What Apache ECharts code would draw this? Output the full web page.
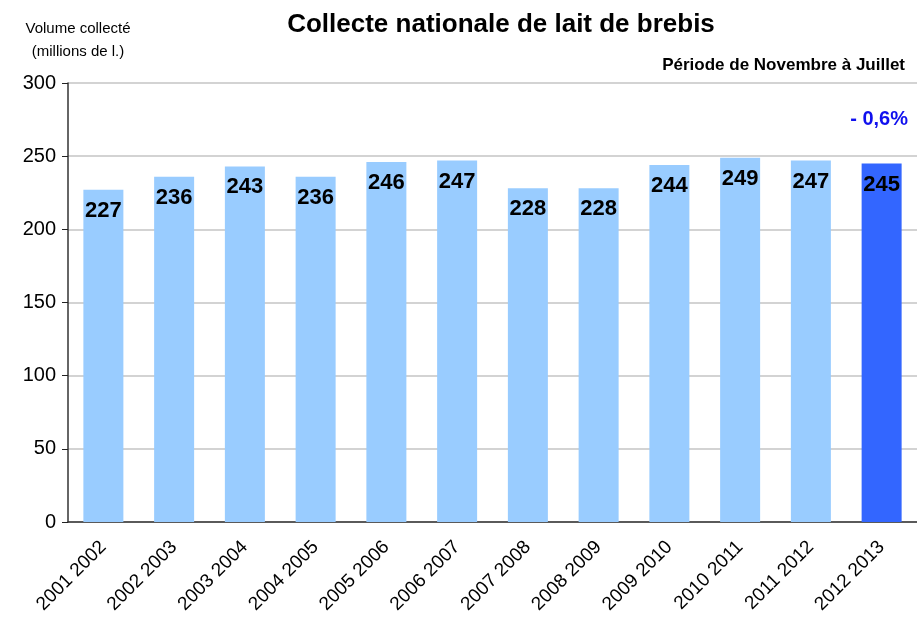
<!DOCTYPE html>
<html>
<head>
<meta charset="utf-8">
<style>
  html, body { margin: 0; padding: 0; background: #fff; }
  #main { width: 917px; height: 619px; }
</style>
<script src="https://cdn.jsdelivr.net/npm/echarts@6/dist/echarts.min.js"></script>
</head>
<body>
<div id="main"></div>
<script>
const campagnes = ["2001 2002", "2002 2003", "2003 2004", "2004 2005", "2005 2006", "2006 2007",
  "2007 2008", "2008 2009", "2009 2010", "2010 2011", "2011 2012", "2012 2013"];
const volumes = [227, 236, 243, 236, 246, 247, 228, 228, 244, 249, 247, 245];
const font = "Liberation Sans, Arial, sans-serif";

const chart = echarts.init(document.getElementById("main"), null, { renderer: "canvas" });

chart.setOption({
  animation: false,
  title: [
    {
      text: "Collecte nationale de lait de brebis",
      left: 496, top: 7, textAlign: "center",
      textStyle: { fontFamily: font, fontSize: 26, fontWeight: "bold", color: "#000" },
    },
    {
      text: "Période de Novembre à Juillet",
      right: 7, top: 52,
      textStyle: { fontFamily: font, fontSize: 17, fontWeight: "bold", color: "#000" },
    },
    {
      text: "- 0,6%",
      right: 4, top: 104,
      textStyle: { fontFamily: font, fontSize: 20, fontWeight: "bold", color: "#1010ee" },
    },
    {
      text: "Volume collecté\n(millions de l.)",
      left: 73, top: 12, textAlign: "center",
      textStyle: { fontFamily: font, fontSize: 15, fontWeight: "normal", color: "#000", lineHeight: 23 },
    },
  ],
  grid: { left: 68, top: 83, width: 853, height: 439, containLabel: false },
  xAxis: {
    type: "category",
    data: campagnes,
    axisLine: { lineStyle: { color: "#333", width: 1.5 } },
    axisTick: { length: 5, lineStyle: { color: "#222" } },
    axisLabel: { rotate: 45, margin: 22, color: "#000", fontFamily: font, fontSize: 19, interval: 0 },
  },
  yAxis: {
    type: "value",
    min: 0, max: 300, interval: 50,
    axisLine: { show: true, lineStyle: { color: "#333", width: 1.5 } },
    axisTick: { show: true, length: 6, inside: false, lineStyle: { color: "#222" } },
    axisLabel: { color: "#000", fontFamily: font, fontSize: 20, margin: 12 },
    splitLine: { lineStyle: { color: "#c4c4c4", width: 1.5 } },
  },
  series: [
    {
      type: "bar",
      data: volumes.map((v, i) => ({
        value: v,
        itemStyle: { color: i === volumes.length - 1 ? "#3366ff" : "#99ccff" },
      })),
      barWidth: 40,
      label: {
        show: true,
        position: "insideTop",
        distance: 10,
        color: "#000",
        fontFamily: font,
        fontSize: 22,
        fontWeight: "bold",
      },
    },
  ],
});
</script>
</body>
</html>
